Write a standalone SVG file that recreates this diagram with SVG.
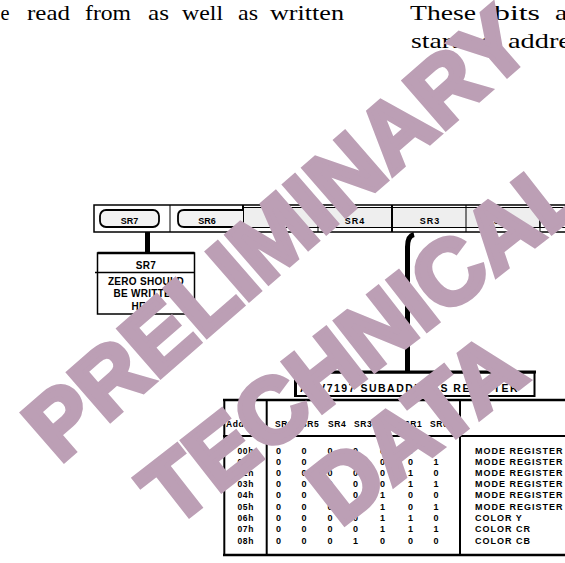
<svg xmlns="http://www.w3.org/2000/svg" width="565" height="563" viewBox="0 0 565 563">
<style>
.body{font-family:"Liberation Serif","Times New Roman",serif;font-size:21px;fill:#000}
.lbl{font-family:"Liberation Sans",Arial,sans-serif;font-weight:bold;fill:#000}
.reg{font-size:9px;text-anchor:middle}
.box{font-size:10px;text-anchor:middle;letter-spacing:0.3px}
.hd{font-size:8.5px;letter-spacing:0.6px}
.adr{font-size:8.5px;letter-spacing:0.6px;text-anchor:end}
.dg{font-size:9px;text-anchor:middle}
.desc{font-size:9px;letter-spacing:1px}
.ttl{font-size:10.5px;letter-spacing:1.5px}
.ln{stroke:#000;fill:none}
.wm{font-family:"Liberation Sans",Arial,sans-serif;font-weight:bold;font-size:92px;fill:#bc9fb5;stroke:#bc9fb5;stroke-width:5px;stroke-linejoin:miter;text-anchor:middle}
</style>
<rect width="565" height="563" fill="#fff"/>
<g id="body-text" class="body">
<text x="0.5" y="19.5" textLength="9" lengthAdjust="spacingAndGlyphs">e</text>
<text x="27" y="19.5" textLength="43" lengthAdjust="spacingAndGlyphs">read</text>
<text x="85" y="19.5" textLength="46" lengthAdjust="spacingAndGlyphs">from</text>
<text x="148" y="19.5" textLength="21" lengthAdjust="spacingAndGlyphs">as</text>
<text x="182" y="19.5" textLength="41" lengthAdjust="spacingAndGlyphs">well</text>
<text x="238" y="19.5" textLength="20" lengthAdjust="spacingAndGlyphs">as</text>
<text x="270" y="19.5" textLength="74" lengthAdjust="spacingAndGlyphs">written</text>
<text x="410" y="19.5" textLength="66" lengthAdjust="spacingAndGlyphs">These</text>
<text x="494" y="19.5" textLength="46" lengthAdjust="spacingAndGlyphs">bits</text>
<text x="555" y="19.5" textLength="34" lengthAdjust="spacingAndGlyphs">are</text>
<text x="411" y="48" textLength="83" lengthAdjust="spacingAndGlyphs">starting</text>
<text x="508" y="48" textLength="85" lengthAdjust="spacingAndGlyphs">address</text>
</g>
<g id="register-row">
<rect x="94" y="205" width="480" height="27" fill="#fff" stroke="#000" stroke-width="1.5"/>
<rect x="243" y="207.5" width="297" height="20" fill="#eeeeee" stroke="#000" stroke-width="1"/>
<rect x="540" y="207.5" width="40" height="20" fill="#fff" stroke="#000" stroke-width="1"/>
<line class="ln" x1="170" y1="205" x2="170" y2="232" stroke-width="1"/>
<line class="ln" x1="243" y1="205" x2="243" y2="232" stroke-width="2"/>
<line class="ln" x1="318" y1="205" x2="318" y2="232" stroke-width="1"/>
<line class="ln" x1="392" y1="205" x2="392" y2="232" stroke-width="2"/>
<line class="ln" x1="466" y1="205" x2="466" y2="232" stroke-width="1"/>
<line class="ln" x1="540" y1="205" x2="540" y2="232" stroke-width="1"/>
<rect x="100" y="210" width="59" height="17" rx="6" fill="#f2f2f2" stroke="#000" stroke-width="1.8"/>
<path d="M243 210 H184 Q178 210 178 216 V221 Q178 227 184 227 H243" fill="#f2f2f2" stroke="#000" stroke-width="1.8"/>
<text class="lbl reg" x="129.5" y="224">SR7</text>
<text class="lbl reg" x="207" y="224">SR6</text>
<text class="lbl reg" x="280.5" y="224" letter-spacing="1">SR5</text>
<text class="lbl reg" x="355" y="224" letter-spacing="1">SR4</text>
<text class="lbl reg" x="430" y="224" letter-spacing="1">SR3</text>
<text class="lbl reg" x="504" y="224" letter-spacing="1">SR2</text>
</g>
<g id="connectors">
<line class="ln" x1="147.5" y1="232" x2="147.5" y2="253" stroke-width="5"/>
<path class="ln" d="M414 234.5 Q407.5 236 407.5 247 V372" stroke-width="5"/>
</g>
<g id="sr7-note">
<rect x="97.5" y="253" width="97" height="61" fill="#fff" stroke="#000" stroke-width="1.5"/>
<line class="ln" x1="97.5" y1="253" x2="194.5" y2="253" stroke-width="2.5"/>
<line class="ln" x1="95" y1="272.5" x2="194.5" y2="272.5" stroke-width="1.5"/>
<text class="lbl box" x="146" y="269">SR7</text>
<text class="lbl box" x="146" y="285">ZERO SHOULD</text>
<text class="lbl box" x="146" y="297">BE WRITTEN</text>
<text class="lbl box" x="146" y="309.5">HERE</text>
</g>
<g id="subaddress-register">
<rect x="295.5" y="372.5" width="239" height="23.5" fill="#fff" stroke="#000" stroke-width="2"/>
<line class="ln" x1="294" y1="372" x2="536" y2="372" stroke-width="3"/>
<line class="ln" x1="295.5" y1="372" x2="295.5" y2="397" stroke-width="3"/>
<text class="lbl ttl" x="300" y="392">ADV7197 SUBADDRESS REGISTER</text>
</g>
<g id="table">
<line class="ln" x1="223" y1="400" x2="565" y2="400" stroke-width="2.5"/>
<line class="ln" x1="224.3" y1="400" x2="224.3" y2="555" stroke-width="2"/>
<line class="ln" x1="266.7" y1="400" x2="266.7" y2="555" stroke-width="2"/>
<line class="ln" x1="460" y1="400" x2="460" y2="555" stroke-width="2"/>
<line class="ln" x1="223" y1="436" x2="565" y2="436" stroke-width="2"/>
<line class="ln" x1="223" y1="555" x2="565" y2="555" stroke-width="2.5"/>
<g class="lbl hd">
<text x="226" y="426.5">Address</text>
<text x="275" y="426.5">SR6</text>
<text x="301" y="426.5">SR5</text>
<text x="328" y="426.5">SR4</text>
<text x="354" y="426.5">SR3</text>
<text x="379" y="426.5">SR2</text>
<text x="404" y="426.5">SR1</text>
<text x="430" y="426.5">SR0</text>
</g>
<g class="lbl adr">
<text x="254" y="453.5">00h</text>
<text x="254" y="464.5">01h</text>
<text x="254" y="475.5">02h</text>
<text x="254" y="486.5">03h</text>
<text x="254" y="498">04h</text>
<text x="254" y="509.5">05h</text>
<text x="254" y="520.5">06h</text>
<text x="254" y="532">07h</text>
<text x="254" y="543.5">08h</text>
</g>
<g class="lbl dg">
<text y="453.5"><tspan x="278.5">0</tspan><tspan x="304">0</tspan><tspan x="330">0</tspan><tspan x="355.5">0</tspan><tspan x="382.5">0</tspan><tspan x="410.5">0</tspan><tspan x="436">0</tspan></text>
<text y="464.5"><tspan x="278.5">0</tspan><tspan x="304">0</tspan><tspan x="330">0</tspan><tspan x="355.5">0</tspan><tspan x="382.5">0</tspan><tspan x="410.5">0</tspan><tspan x="436">1</tspan></text>
<text y="475.5"><tspan x="278.5">0</tspan><tspan x="304">0</tspan><tspan x="330">0</tspan><tspan x="355.5">0</tspan><tspan x="382.5">0</tspan><tspan x="410.5">1</tspan><tspan x="436">0</tspan></text>
<text y="486.5"><tspan x="278.5">0</tspan><tspan x="304">0</tspan><tspan x="330">0</tspan><tspan x="355.5">0</tspan><tspan x="382.5">0</tspan><tspan x="410.5">1</tspan><tspan x="436">1</tspan></text>
<text y="498"><tspan x="278.5">0</tspan><tspan x="304">0</tspan><tspan x="330">0</tspan><tspan x="355.5">0</tspan><tspan x="382.5">1</tspan><tspan x="410.5">0</tspan><tspan x="436">0</tspan></text>
<text y="509.5"><tspan x="278.5">0</tspan><tspan x="304">0</tspan><tspan x="330">0</tspan><tspan x="355.5">0</tspan><tspan x="382.5">1</tspan><tspan x="410.5">0</tspan><tspan x="436">1</tspan></text>
<text y="520.5"><tspan x="278.5">0</tspan><tspan x="304">0</tspan><tspan x="330">0</tspan><tspan x="355.5">0</tspan><tspan x="382.5">1</tspan><tspan x="410.5">1</tspan><tspan x="436">0</tspan></text>
<text y="532"><tspan x="278.5">0</tspan><tspan x="304">0</tspan><tspan x="330">0</tspan><tspan x="355.5">0</tspan><tspan x="382.5">1</tspan><tspan x="410.5">1</tspan><tspan x="436">1</tspan></text>
<text y="543.5"><tspan x="278.5">0</tspan><tspan x="304">0</tspan><tspan x="330">0</tspan><tspan x="355.5">1</tspan><tspan x="382.5">0</tspan><tspan x="410.5">0</tspan><tspan x="436">0</tspan></text>
</g>
<g class="lbl desc">
<text x="475" y="453.5">MODE REGISTER</text>
<text x="475" y="464.5">MODE REGISTER</text>
<text x="475" y="475.5">MODE REGISTER</text>
<text x="475" y="486.5">MODE REGISTER</text>
<text x="475" y="498">MODE REGISTER</text>
<text x="475" y="509.5">MODE REGISTER</text>
<text x="475" y="520.5">COLOR Y</text>
<text x="475" y="532">COLOR CR</text>
<text x="475" y="543.5">COLOR CB</text>
</g>
</g>
<g id="watermark">
<text class="wm" transform="translate(275,232) rotate(-41)" x="0" y="34" font-size="96">PRELIMINARY</text>
<g transform="translate(350,352) rotate(-38)">
<text class="wm" x="17" y="30">TECHNICAL</text>
<text class="wm" x="5" y="132">DATA</text>
</g>
</g>
</svg>
